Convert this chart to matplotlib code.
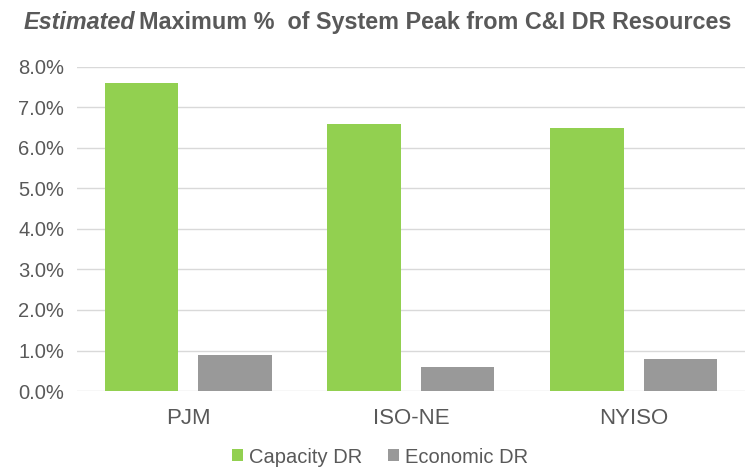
import matplotlib.pyplot as plt
import numpy as np

regions = ["PJM", "ISO-NE", "NYISO"]
capacity_dr = [7.6, 6.6, 6.5]
economic_dr = [0.9, 0.6, 0.8]

plt.rcParams['font.family'] = ['Liberation Sans', 'DejaVu Sans']
txt = '#595959'

fig = plt.figure(figsize=(7.45, 4.68), dpi=100)
ax = fig.add_axes([0.103, 0.1645, 0.897, 0.6925])

x = np.arange(len(regions))
w = 0.33
ax.bar(x - 0.21, capacity_dr, w, color='#92D050', label='Capacity DR', zorder=3)
ax.bar(x + 0.21, economic_dr, w, color='#999999', label='Economic DR', zorder=3)

ax.set_xlim(-0.5, 2.5)
ax.set_ylim(0, 8)
ax.set_yticks(np.arange(0, 8.1, 1))
ax.set_yticklabels([f'{v:.1f}%' for v in np.arange(0, 8.1, 1)])
ax.set_xticks(x)
ax.set_xticklabels(regions)
ax.grid(axis='y', color='#d9d9d9', linewidth=1, zorder=0)
for s in ax.spines.values():
    s.set_visible(False)
ax.tick_params(length=0, colors=txt)
ax.tick_params(axis='y', labelsize=14.5, pad=9)
ax.tick_params(axis='x', labelsize=16, pad=12)

t1 = fig.text(0.031, 0.951, 'Estimated', style='italic', fontweight='bold',
              fontsize=16.8, color=txt, va='center')
fig.canvas.draw()
bb = t1.get_window_extent()
fig.text(bb.x1 / fig.bbox.width + 0.006, 0.951,
         'Maximum %  of System Peak from C&I DR Resources', fontweight='bold',
         fontsize=16.8, color=txt, va='center')

fig.legend(loc='center', bbox_to_anchor=(0.51, 0.0235), ncol=2, frameon=False,
           fontsize=14.5, labelcolor=txt, handlelength=0.55, handleheight=0.55,
           handletextpad=0.3, columnspacing=1.3, borderaxespad=0)

fig.savefig('out.png', dpi=100)
